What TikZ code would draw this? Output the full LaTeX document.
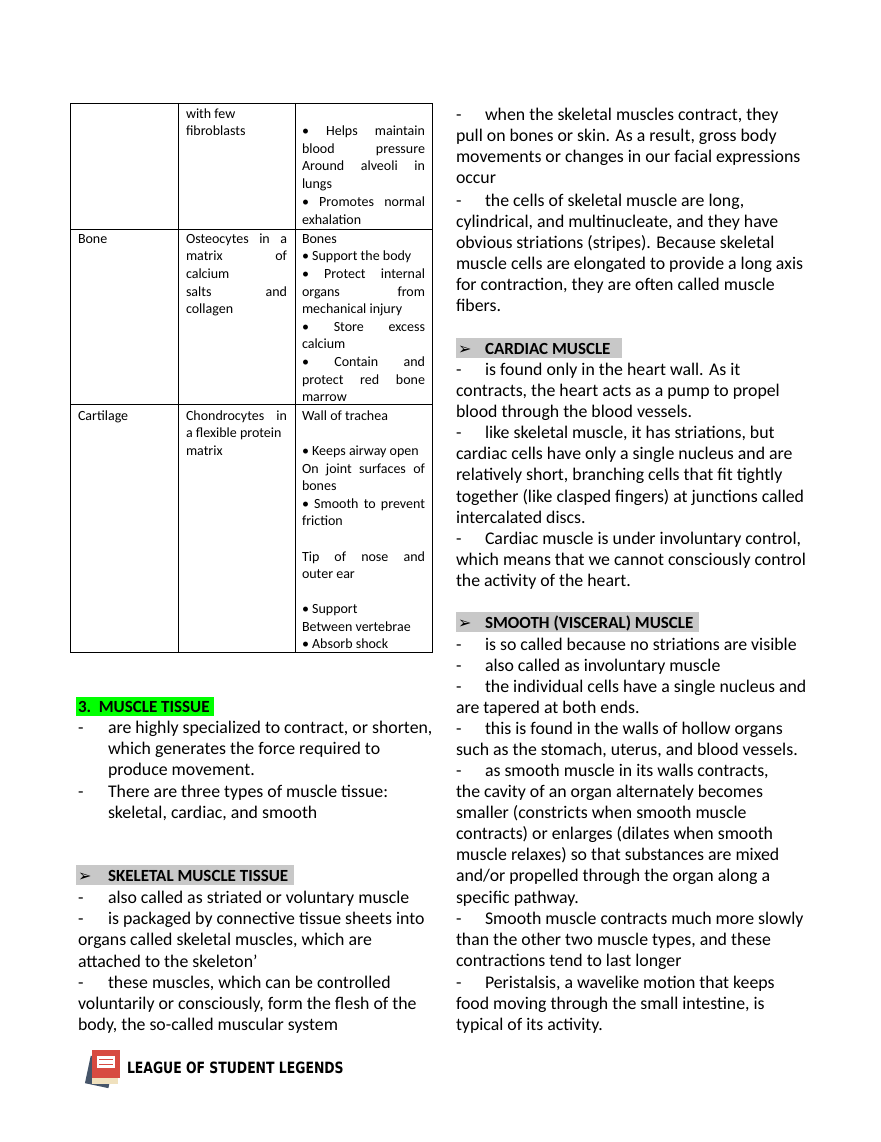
\documentclass[tikz,border=0pt]{standalone}
\usepackage{fontspec}
\setmainfont{Carlito}
\newfontfamily\logofont{DejaVu Sans}
\newfontfamily\symfont{DejaVu Sans}
\newcommand{\TL}[3]{\node[anchor=base west,font=\fontsize{14}{16}\selectfont] at (#1,#2) {#3};}
\newcommand{\TJ}[4]{\node[anchor=base west,font=\fontsize{14}{16}\selectfont] at (#1,#2) {\makebox[#3pt][s]{#4}};}
\newcommand{\BL}[3]{\node[anchor=base west,font=\fontsize{17.8}{20}\selectfont] at (#1,#2) {#3};}
\newcommand{\HL}[3]{\node[anchor=base west,font=\fontsize{17}{20}\selectfont\bfseries] at (#1,#2) {#3};}
\newcommand{\BD}[4]{\node[anchor=base west,font=\fontsize{17.8}{20}\selectfont] at (#1,#3) {-};\node[anchor=base west,font=\fontsize{17.8}{20}\selectfont] at (#2,#3) {#4};}
\newcommand{\AR}{{\symfont\fontsize{16}{16}\selectfont ➢}}
\definecolor{hlgreen}{RGB}{0,255,0}
\definecolor{hlgray}{RGB}{200,200,200}
\definecolor{bookblue}{RGB}{70,85,105}
\definecolor{bookpage}{RGB}{240,225,190}
\definecolor{bookred}{RGB}{215,75,65}
\begin{document}
\begin{tikzpicture}[x=1pt,y=-1pt,inner sep=0pt,outer sep=0pt]
\useasboundingbox (0,0) rectangle (880,1142);
\fill[white] (0,0) rectangle (880,1142);
% table
\draw[line width=0.7pt] (70,103) rectangle (432,652);
\draw[line width=0.7pt] (178,103) -- (178,652) (295,103) -- (295,652)
  (70,229) -- (432,229) (70,404) -- (432,404);
\TL{186}{119}{with few}
\TL{186}{136}{fibroblasts}
\TJ{302}{136}{123}{• Helps maintain}
\TJ{302}{154}{123}{blood pressure}
\TJ{302}{171}{123}{Around alveoli in}
\TL{302}{189}{lungs}
\TJ{302}{207}{123}{• Promotes normal}
\TL{302}{224}{exhalation}
\TL{78}{243}{Bone}
\TJ{186}{243}{101}{Osteocytes in a}
\TJ{186}{260}{101}{matrix of}
\TL{186}{278}{calcium}
\TJ{186}{296}{101}{salts and}
\TL{186}{313}{collagen}
\TL{302}{243}{Bones}
\TL{302}{260}{• Support the body}
\TJ{302}{278}{123}{• Protect internal}
\TJ{302}{296}{123}{organs from}
\TL{302}{313}{mechanical injury}
\TJ{302}{331}{123}{• Store excess}
\TL{302}{348}{calcium}
\TJ{302}{366}{123}{• Contain and}
\TJ{302}{384}{123}{protect red bone}
\TL{302}{401}{marrow}
\TL{78}{420}{Cartilage}
\TJ{186}{420}{101}{Chondrocytes in}
\TL{186}{437}{a flexible protein}
\TL{186}{455}{matrix}
\TL{302}{420}{Wall of trachea}
\TL{302}{455}{• Keeps airway open}
\TJ{302}{473}{123}{On joint surfaces of}
\TL{302}{490}{bones}
\TJ{302}{508}{123}{• Smooth to prevent}
\TL{302}{525}{friction}
\TJ{302}{561}{123}{Tip of nose and}
\TL{302}{578}{outer ear}
\TL{302}{613}{• Support}
\TL{302}{631}{Between vertebrae}
\TL{302}{648}{• Absorb shock}
% left column
\fill[hlgreen] (76,697) rectangle (214,716);
\HL{78}{712}{3.\ \ MUSCLE TISSUE}
\BD{78}{108}{733}{are highly specialized to contract, or shorten,}
\BL{108}{754}{which generates the force required to}
\BL{108}{775}{produce movement.}
\BD{78}{108}{797}{There are three types of muscle tissue:}
\BL{108}{818}{skeletal, cardiac, and smooth}
\fill[hlgray] (76,865) rectangle (294,885);
\BL{78}{881}{\AR}
\HL{108}{881}{SKELETAL MUSCLE TISSUE}
\BD{78}{108}{903}{also called as striated or voluntary muscle}
\BD{78}{108}{924}{is packaged by connective tissue sheets into}
\BL{78}{945}{organs called skeletal muscles, which are}
\BL{78}{967}{attached to the skeleton’}
\BD{78}{108}{988}{these muscles, which can be controlled}
\BL{78}{1009}{voluntarily or consciously, form the flesh of the}
\BL{78}{1030}{body, the so-called muscular system}
% right column
\BD{456}{485}{121}{when the skeletal muscles contract, they}
\BL{456}{142}{pull on bones or skin. As a result, gross body}
\BL{456}{163}{movements or changes in our facial expressions}
\BL{456}{184}{occur}
\BD{456}{485}{206}{the cells of skeletal muscle are long,}
\BL{456}{227}{cylindrical, and multinucleate, and they have}
\BL{456}{248}{obvious striations (stripes). Because skeletal}
\BL{456}{269}{muscle cells are elongated to provide a long axis}
\BL{456}{290}{for contraction, they are often called muscle}
\BL{456}{311}{fibers.}
\fill[hlgray] (456,338) rectangle (622,358);
\BL{458}{354}{\AR}
\HL{485}{354}{CARDIAC MUSCLE}
\BD{456}{485}{375}{is found only in the heart wall. As it}
\BL{456}{396}{contracts, the heart acts as a pump to propel}
\BL{456}{417}{blood through the blood vessels.}
\BD{456}{485}{438}{like skeletal muscle, it has striations, but}
\BL{456}{459}{cardiac cells have only a single nucleus and are}
\BL{456}{480}{relatively short, branching cells that fit tightly}
\BL{456}{502}{together (like clasped fingers) at junctions called}
\BL{456}{523}{intercalated discs.}
\BD{456}{485}{544}{Cardiac muscle is under involuntary control,}
\BL{456}{565}{which means that we cannot consciously control}
\BL{456}{586}{the activity of the heart.}
\fill[hlgray] (456,612) rectangle (699,632);
\BL{458}{628}{\AR}
\HL{485}{628}{SMOOTH (VISCERAL) MUSCLE}
\BD{456}{485}{650}{is so called because no striations are visible}
\BD{456}{485}{671}{also called as involuntary muscle}
\BD{456}{485}{692}{the individual cells have a single nucleus and}
\BL{456}{713}{are tapered at both ends.}
\BD{456}{485}{734}{this is found in the walls of hollow organs}
\BL{456}{755}{such as the stomach, uterus, and blood vessels.}
\BD{456}{485}{776}{as smooth muscle in its walls contracts,}
\BL{456}{797}{the cavity of an organ alternately becomes}
\BL{456}{818}{smaller (constricts when smooth muscle}
\BL{456}{839}{contracts) or enlarges (dilates when smooth}
\BL{456}{860}{muscle relaxes) so that substances are mixed}
\BL{456}{881}{and/or propelled through the organ along a}
\BL{456}{903}{specific pathway.}
\BD{456}{485}{924}{Smooth muscle contracts much more slowly}
\BL{456}{945}{than the other two muscle types, and these}
\BL{456}{966}{contractions tend to last longer}
\BD{456}{485}{988}{Peristalsis, a wavelike motion that keeps}
\BL{456}{1009}{food moving through the small intestine, is}
\BL{456}{1030}{typical of its activity.}
% logo
\fill[bookblue,rotate around={-12:(100,1070)}] (88,1058) rectangle (112,1086);
\fill[bookpage] (92,1076) rectangle (118,1084);
\fill[bookred] (92,1050) rectangle (120,1078);
\fill[white] (97,1056) rectangle (115,1068);
\draw[bookred,line width=0.6pt] (99,1059) -- (113,1059) (99,1064) -- (113,1064);
\node[anchor=west,font=\logofont\bfseries\fontsize{13.5}{14}\selectfont] (logo) at (127,1068) {\scalebox{0.92}[1.15]{LEAGUE OF STUDENT LEGENDS}};
\end{tikzpicture}
\end{document}
